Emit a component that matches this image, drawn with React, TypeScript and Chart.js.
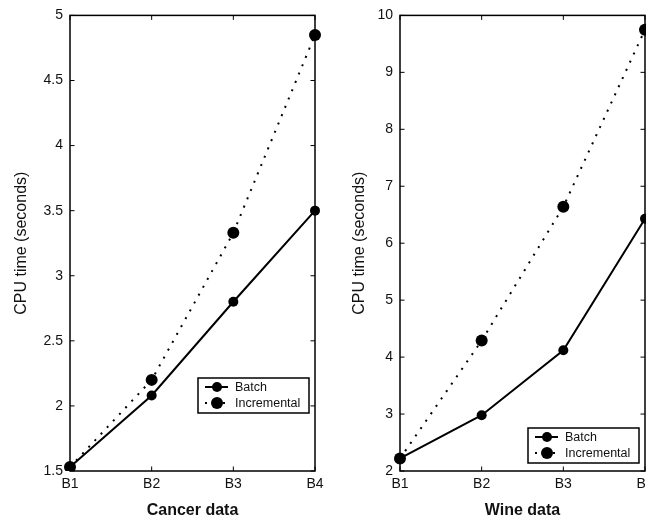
import React, { useEffect, useRef } from "react";
import { Chart, registerables } from "chart.js";

Chart.register(...registerables);

const categories = ["B1", "B2", "B3", "B4"];
const seriesNames = ["Batch", "Incremental"];
const cancerBatch = [1.53, 2.08, 2.8, 3.5];
const cancerIncremental = [1.53, 2.2, 3.33, 4.85];
const wineBatch = [2.22, 2.98, 4.12, 6.43];
const wineIncremental = [2.22, 4.29, 6.64, 9.75];
const cancerTitle = "Cancer data";
const wineTitle = "Wine data";
const yTitle = "CPU time (seconds)";

const FONT = "'Liberation Sans', Arial, Helvetica, sans-serif";

const framePlugin = {
  id: "frameBox",
  beforeDatasetsDraw(chart: any) {
    const { ctx, chartArea, scales } = chart;
    const { left, right, top, bottom } = chartArea;
    const x = scales.x;
    const y = scales.y;
    ctx.save();
    ctx.strokeStyle = "#000";
    ctx.lineWidth = 1.5;
    ctx.strokeRect(left, top, right - left, bottom - top);
    ctx.lineWidth = 1;
    const L = 4.5;
    ctx.beginPath();
    x.ticks.forEach((_t: any, i: number) => {
      const px = x.getPixelForTick(i);
      ctx.moveTo(px, bottom);
      ctx.lineTo(px, bottom - L);
      ctx.moveTo(px, top);
      ctx.lineTo(px, top + L);
    });
    y.ticks.forEach((_t: any, i: number) => {
      const py = y.getPixelForTick(i);
      ctx.moveTo(left, py);
      ctx.lineTo(left + L, py);
      ctx.moveTo(right, py);
      ctx.lineTo(right - L, py);
    });
    ctx.stroke();
    ctx.restore();
  },
};

const legendPlugin = {
  id: "boxLegend",
  afterDatasetsDraw(chart: any, _args: any, opts: any) {
    const { ctx, chartArea } = chart;
    const w = opts.width;
    const h = opts.height;
    const bx = chartArea.right - opts.right - w;
    const by = chartArea.bottom - opts.bottom - h;
    ctx.save();
    ctx.fillStyle = "#fff";
    ctx.fillRect(bx, by, w, h);
    ctx.strokeStyle = "#000";
    ctx.lineWidth = 1.5;
    ctx.strokeRect(bx, by, w, h);
    ctx.font = `12.5px ${FONT}`;
    ctx.textBaseline = "middle";
    ctx.textAlign = "left";
    chart.data.datasets.forEach((ds: any, i: number) => {
      const cy = by + 9 + i * 16;
      ctx.strokeStyle = "#000";
      ctx.lineWidth = ds.borderWidth;
      ctx.setLineDash(ds.borderDash || []);
      ctx.beginPath();
      ctx.moveTo(bx + 7, cy);
      ctx.lineTo(bx + 30, cy);
      ctx.stroke();
      ctx.setLineDash([]);
      ctx.fillStyle = "#000";
      ctx.beginPath();
      ctx.arc(bx + 19, cy, ds.pointRadius, 0, Math.PI * 2);
      ctx.fill();
      ctx.fillStyle = "#111";
      ctx.fillText(ds.label, bx + 37, cy + 0.5);
    });
    ctx.restore();
  },
};

function makeConfig(
  batch: number[],
  incr: number[],
  title: string,
  yMin: number,
  yMax: number,
  step: number,
  yTitlePad: number,
  legendBottom: number
): any {
  return {
    type: "line",
    data: {
      labels: categories,
      datasets: [
        {
          label: seriesNames[0],
          data: batch,
          borderColor: "#000",
          backgroundColor: "#000",
          borderWidth: 2,
          pointRadius: 5,
          pointBackgroundColor: "#000",
          pointBorderWidth: 0,
          tension: 0,
        },
        {
          label: seriesNames[1],
          data: incr,
          borderColor: "#000",
          backgroundColor: "#000",
          borderWidth: 2,
          borderDash: [2, 7],
          borderCapStyle: "butt",
          pointRadius: 6,
          pointBackgroundColor: "#000",
          pointBorderWidth: 0,
          tension: 0,
        },
      ],
    },
    options: {
      animation: false,
      responsive: false,
      maintainAspectRatio: false,
      layout: { padding: { top: 14, right: 15, left: 0, bottom: 0 } },
      plugins: {
        legend: { display: false },
        tooltip: { enabled: false },
        boxLegend: { right: 6, bottom: legendBottom, width: 111, height: 35 },
      },
      scales: {
        x: {
          type: "category",
          offset: false,
          grid: { display: false, drawTicks: false },
          border: { display: false },
          ticks: {
            color: "#111",
            padding: 5,
            font: { family: FONT, size: 14 },
            maxRotation: 0,
          },
          title: {
            display: true,
            text: title,
            color: "#111",
            font: { family: FONT, size: 16, weight: "bold" },
            padding: { top: 0, bottom: 0 },
          },
          afterFit(scale: any) {
            scale.height = 49;
          },
        },
        y: {
          min: yMin,
          max: yMax,
          grid: { display: false, drawTicks: false },
          border: { display: false },
          ticks: {
            stepSize: step,
            color: "#111",
            padding: 7,
            font: { family: FONT, size: 14 },
            callback: (v: any) => String(Number(Number(v).toFixed(2))),
          },
          title: {
            display: true,
            text: yTitle,
            color: "#111",
            font: { family: FONT, size: 16 },
            padding: { top: yTitlePad, bottom: 0 },
          },
          afterFit(scale: any) {
            scale.width = 70;
          },
        },
      },
    },
    plugins: [framePlugin, legendPlugin],
  };
}

function ChartCanvas({ config, left }: { config: any; left: number }) {
  const ref = useRef<HTMLCanvasElement | null>(null);
  useEffect(() => {
    if (!ref.current) return;
    const chart = new Chart(ref.current, config);
    return () => chart.destroy();
  }, [config]);
  return (
    <canvas
      ref={ref}
      width={330}
      height={520}
      style={{ position: "absolute", left, top: 0, width: 330, height: 520 }}
    />
  );
}

const leftConfig = makeConfig(cancerBatch, cancerIncremental, cancerTitle, 1.5, 5, 0.5, 12, 58);
const rightConfig = makeConfig(wineBatch, wineIncremental, wineTitle, 2, 10, 1, 20, 8);

export default function App() {
  return (
    <div
      style={{
        position: "fixed",
        left: 0,
        top: 0,
        width: 646,
        height: 520,
        overflow: "hidden",
        background: "#fff",
      }}
    >
      <ChartCanvas config={leftConfig} left={0} />
      <ChartCanvas config={rightConfig} left={330} />
    </div>
  );
}
